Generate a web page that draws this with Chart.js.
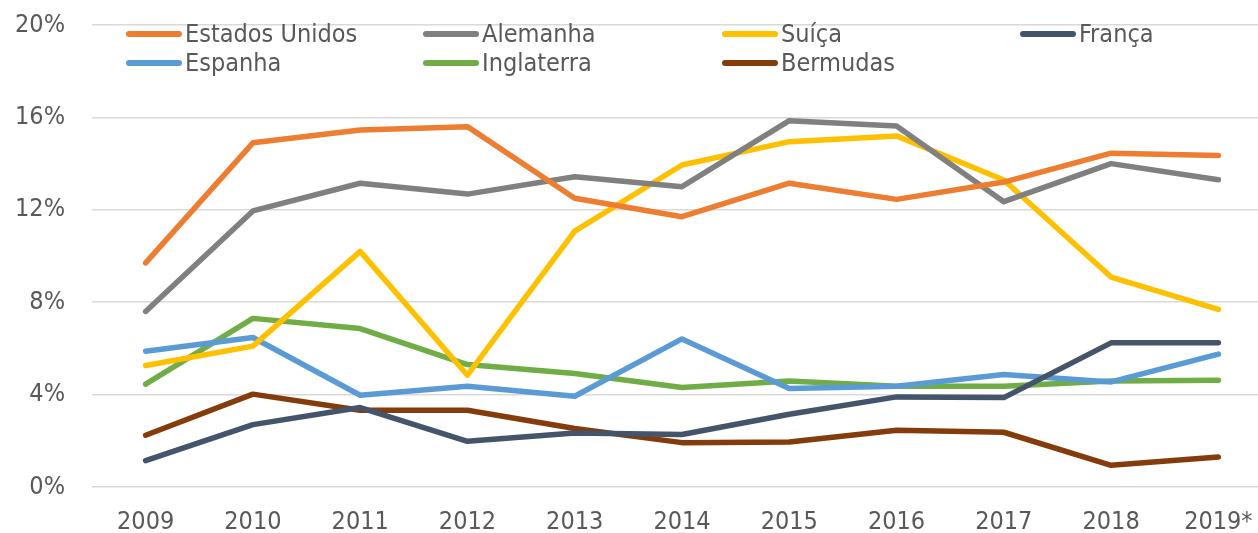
<!DOCTYPE html>
<html>
<head>
<meta charset="utf-8">
<script src="https://cdn.jsdelivr.net/npm/chart.js@4.4.1/dist/chart.umd.min.js"></script>
<style>
  html, body { margin: 0; padding: 0; background: #fff; overflow: hidden; width: 1258px; height: 533px; }
  #wrap { position: relative; width: 1272px; height: 533px; }
  #legend { position: absolute; left: 0; top: 0; width: 1272px; height: 80px; font-family: "DejaVu Sans Condensed", "DejaVu Sans", sans-serif; font-size: 25px; color: #595959; }
  .item { position: absolute; height: 29px; display: flex; align-items: center; white-space: nowrap; }
  .swatch { width: 56px; height: 6px; border-radius: 3px; margin-right: 3px; }
</style>
</head>
<body>
<div id="wrap">
  <canvas id="c" width="1272" height="533"></canvas>
  <div id="legend"></div>
</div>
<script>
const categories = ["2009","2010","2011","2012","2013","2014","2015","2016","2017","2018","2019*"];
const yTicks = [0, 4, 8, 12, 16, 20];

const estadosUnidos = [9.7, 14.9, 15.45, 15.6, 12.5, 11.7, 13.15, 12.45, 13.2, 14.45, 14.35];
const alemanha      = [7.6, 11.95, 13.15, 12.68, 13.43, 13.0, 15.86, 15.63, 12.35, 14.0, 13.3];
const suica         = [5.26, 6.1, 10.2, 4.84, 11.08, 13.94, 14.95, 15.2, 13.29, 9.09, 7.69];
const franca        = [1.14, 2.7, 3.44, 1.98, 2.34, 2.27, 3.15, 3.9, 3.87, 6.24, 6.24];
const espanha       = [5.88, 6.47, 3.97, 4.36, 3.93, 6.41, 4.26, 4.36, 4.87, 4.55, 5.75];
const inglaterra    = [4.45, 7.3, 6.86, 5.3, 4.91, 4.31, 4.59, 4.36, 4.36, 4.59, 4.62];
const bermudas      = [2.24, 4.02, 3.32, 3.32, 2.53, 1.92, 1.95, 2.46, 2.37, 0.94, 1.3];

const seriesNames = ["Estados Unidos", "Alemanha", "Suíça", "França", "Espanha", "Inglaterra", "Bermudas"];
const seriesData = [estadosUnidos, alemanha, suica, franca, espanha, inglaterra, bermudas];
const seriesColors = ["#ED7D31", "#808080", "#FFC000", "#44546A", "#5B9BD5", "#70AD47", "#843C0C"];

const FONT = "'DejaVu Sans Condensed', 'DejaVu Sans', sans-serif";

// Legend (HTML, 4 columns x 2 rows)
const legendEl = document.getElementById('legend');
const colX = [126, 423, 722, 1020];
const rowY = [19, 48];
seriesNames.forEach((name, i) => {
  const it = document.createElement('div');
  it.className = 'item';
  it.style.left = colX[i % 4] + 'px';
  it.style.top = rowY[Math.floor(i / 4)] + 'px';
  const sw = document.createElement('div');
  sw.className = 'swatch';
  sw.style.background = seriesColors[i];
  const tx = document.createElement('span');
  tx.textContent = name;
  it.appendChild(sw);
  it.appendChild(tx);
  legendEl.appendChild(it);
});

new Chart(document.getElementById('c'), {
  type: 'line',
  data: {
    labels: categories,
    datasets: seriesNames.map((n, i) => ({
      label: n,
      data: seriesData[i],
      borderColor: seriesColors[i],
      backgroundColor: seriesColors[i],
      borderWidth: 5.5,
      pointRadius: 0,
      pointHoverRadius: 0,
      tension: 0,
      borderCapStyle: 'round',
      borderJoinStyle: 'round',
      fill: false
    }))
  },
  options: {
    responsive: false,
    animation: false,
    devicePixelRatio: 1,
    layout: { padding: { top: 25, left: 0, right: 0, bottom: 0 } },
    plugins: { legend: { display: false }, tooltip: { enabled: false } },
    scales: {
      x: {
        offset: true,
        grid: { display: false, drawTicks: false },
        border: { display: false },
        ticks: { color: '#595959', font: { family: FONT, size: 25 }, padding: 20, maxRotation: 0, autoSkip: false },
        afterFit: s => { s.height = 46; s.paddingLeft = 0; s.paddingRight = 0; }
      },
      y: {
        min: 0, max: 20,
        afterBuildTicks: s => { s.ticks = yTicks.map(v => ({ value: v })); },
        grid: { color: '#D9D9D9', lineWidth: 1.5, drawTicks: false },
        border: { display: false },
        ticks: { color: '#595959', font: { family: FONT, size: 25 }, padding: 27, callback: v => v + '%' },
        afterFit: s => { s.width = 92; s.paddingTop = 0; s.paddingBottom = 0; }
      }
    }
  }
});
</script>
</body>
</html>
